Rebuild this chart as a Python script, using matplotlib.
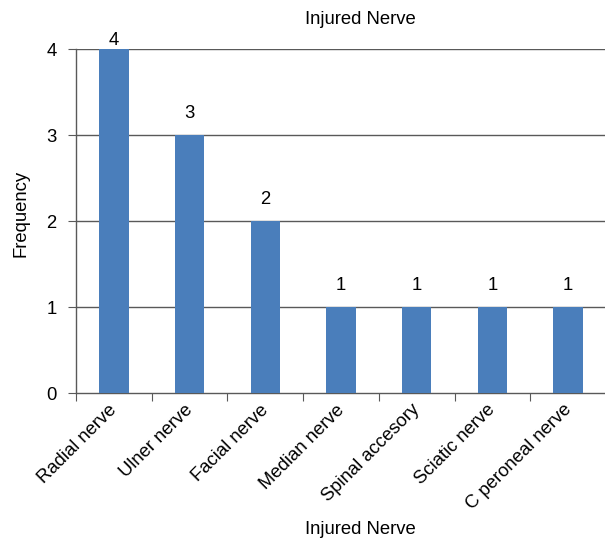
import numpy as np
import matplotlib.pyplot as plt
from matplotlib.transforms import ScaledTranslation

nerves = ["Radial nerve", "Ulner nerve", "Facial nerve", "Median nerve",
          "Spinal accesory", "Sciatic nerve", "C peroneal nerve"]
frequency = [4, 3, 2, 1, 1, 1, 1]

fs = 13.3
plt.rcParams["font.family"] = ["Liberation Sans", "DejaVu Sans"]
plt.rcParams["font.size"] = fs

fig = plt.figure(figsize=(6.05, 5.39), dpi=100)
ax = fig.add_axes([76 / 605, 1 - 393 / 539, 530 / 605, 344 / 539])

x = np.arange(len(nerves))
bar_color = "#4a7ebb"
line_color = "#595959"

ax.bar(x, frequency, width=0.39, color=bar_color, zorder=3)

ax.set_xlim(-0.5, len(nerves) - 0.5)
ax.set_ylim(0, 4)
ax.set_yticks([0, 1, 2, 3, 4])

for yv in [1, 2, 3, 4]:
    ax.axhline(yv, color=line_color, lw=1.0, zorder=1)

for s in ["top", "right"]:
    ax.spines[s].set_visible(False)
for s in ["left", "bottom"]:
    ax.spines[s].set_color(line_color)
    ax.spines[s].set_linewidth(1.0)

# category boundary ticks on x, labels centred under the bars
ax.set_xticks(np.arange(len(nerves) + 1) - 0.5)
ax.set_xticklabels([])
ax.set_xticks(x, minor=True)
ax.set_xticklabels(nerves, minor=True, rotation=45, ha="right",
                   rotation_mode="anchor", fontsize=fs)
ax.tick_params(axis="x", which="minor", length=0, pad=6)
ax.tick_params(axis="x", which="major", length=6, color=line_color)
ax.tick_params(axis="y", length=6, color=line_color, labelsize=fs, pad=8)

# nudge rotated labels a little to the left
shift = ScaledTranslation(-4 / 72, 0, fig.dpi_scale_trans)
for lbl in ax.get_xticklabels(minor=True):
    lbl.set_transform(lbl.get_transform() + shift)

top = max(frequency)
for xi, v in zip(x, frequency):
    off = 0 if v == top else 9
    ax.annotate(str(v), (xi, v), xytext=(0, off), textcoords="offset points",
                ha="center", va="bottom", fontsize=fs, zorder=4)

fig.text(360 / 605, 1 - 20 / 539, "Injured Nerve", ha="center", va="center", fontsize=fs)
fig.text(360 / 605, 1 - 529 / 539, "Injured Nerve", ha="center", va="center", fontsize=fs)
fig.text(21 / 605, 1 - 213 / 539, "Frequency", ha="center", va="center",
         rotation=90, fontsize=fs)

fig.savefig("out.png", dpi=100)
